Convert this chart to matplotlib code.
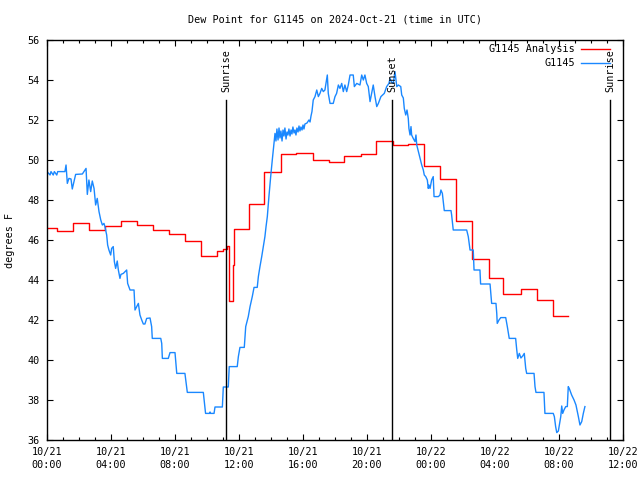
import matplotlib
matplotlib.use("Agg")
import matplotlib.pyplot as plt
from matplotlib.lines import Line2D
import numpy as np

# ---- data (x in hours since 2024-10-21 00:00 UTC, values in degrees F) ----
analysis_t = [0.0, 0.64, 1.64, 2.64, 3.64, 4.64, 5.64, 6.64, 7.64, 8.64, 9.64,
              10.64, 11.0, 11.25, 11.4, 11.6, 11.7, 12.6, 13.56, 14.6, 15.55,
              16.6, 17.6, 18.56, 19.6, 20.55, 21.6, 22.55, 23.58, 24.56, 25.56,
              26.56, 27.6, 28.5, 29.6, 30.6, 31.6, 32.54]
analysis_v = [46.58, 46.43, 46.83, 46.48, 46.68, 46.93, 46.73, 46.48, 46.28, 45.93, 45.18,
              45.43, 45.57, 45.68, 42.93, 44.75, 46.53, 47.8, 49.38, 50.3, 50.33,
              50.0, 49.88, 50.18, 50.28, 50.95, 50.73, 50.8, 49.7, 49.05, 46.93,
              45.03, 44.08, 43.28, 43.53, 43.0, 42.18, 42.18]

obs_t = [0.0, 0.19, 0.25, 0.39, 0.46, 0.61, 0.67, 1.12, 1.19, 1.27, 1.37, 1.5, 1.58, 1.69,
         1.79, 2.21, 2.33, 2.44, 2.52, 2.62, 2.73, 2.83, 2.94, 3.04, 3.14, 3.25, 3.36,
         3.46, 3.56, 3.62, 3.73, 3.79, 3.87, 3.98, 4.04, 4.14, 4.21, 4.29, 4.39, 4.46,
         4.56, 4.62, 4.77, 4.98, 5.04, 5.19, 5.44, 5.5, 5.61, 5.71, 5.81, 5.92, 6.02,
         6.12, 6.23, 6.44, 6.54, 6.58, 7.11, 7.17, 7.21, 7.58, 7.69, 8.0, 8.06, 8.11,
         8.62, 8.77, 9.77, 9.81, 9.91, 10.16, 10.19, 10.22, 10.44, 10.5, 10.96, 11.02,
         11.33, 11.39, 11.89, 11.96, 12.06, 12.33, 12.42, 12.58, 12.69, 12.83, 12.94,
         13.14, 13.21, 13.31, 13.42, 13.52, 13.62, 13.69, 13.77, 13.87, 13.98, 14.08,
         14.19, 14.25, 14.31, 14.37, 14.44, 14.5, 14.56, 14.62, 14.69, 14.75, 14.81,
         14.87, 14.94, 15.0, 15.06, 15.12, 15.19, 15.25, 15.31, 15.37, 15.44, 15.5,
         15.56, 15.62, 15.69, 15.75, 15.81, 15.87, 15.94, 16.0, 16.06, 16.12, 16.25,
         16.37, 16.44, 16.5, 16.56, 16.64, 16.75, 16.86, 16.96, 17.06, 17.17, 17.27,
         17.37, 17.52, 17.58, 17.69, 17.89, 18.0, 18.1, 18.21, 18.31, 18.42, 18.52,
         18.62, 18.73, 18.83, 18.94, 19.14, 19.21, 19.36, 19.56, 19.67, 19.77, 19.87,
         19.98, 20.08, 20.19, 20.29, 20.39, 20.5, 20.61, 20.71, 20.87, 21.08, 21.23,
         21.37, 21.44, 21.53, 21.64, 21.75, 21.86, 21.96, 22.11, 22.17, 22.27, 22.33,
         22.42, 22.5, 22.58, 22.62, 22.69, 22.75, 22.79, 22.89, 23.0, 23.06, 23.11,
         23.21, 23.31, 23.42, 23.52, 23.58, 23.67, 23.77, 23.83, 23.87, 23.94, 24.04,
         24.14, 24.19, 24.46, 24.56, 24.62, 24.71, 24.77, 24.83, 25.25, 25.29, 25.39,
         26.23, 26.33, 26.44, 26.64, 26.69, 27.06, 27.1, 27.69, 27.79, 28.06, 28.11,
         28.14, 28.25, 28.36, 28.67, 28.77, 28.89, 29.29, 29.36, 29.42, 29.52, 29.62,
         29.73, 29.83, 29.92, 29.98, 30.44, 30.5, 30.56, 31.06, 31.12, 31.64, 31.71,
         31.79, 31.86, 31.96, 32.02, 32.11, 32.17, 32.23, 32.31, 32.42, 32.52, 32.58,
         32.64, 32.79, 32.94, 33.06, 33.21, 33.31, 33.42, 33.52, 33.62]
obs_v = [49.42, 49.25, 49.42, 49.25, 49.42, 49.25, 49.42, 49.42, 49.75, 48.83, 49.08, 49.05,
         48.55, 48.92, 49.28, 49.3, 49.45, 49.58, 48.28, 49.0, 48.42, 48.95, 48.58, 47.75,
         48.08, 47.42, 47.0, 46.75, 46.83, 46.67, 46.25, 45.75, 45.5, 45.25, 45.58, 45.67,
         44.92, 44.58, 44.95, 44.5, 44.08, 44.28, 44.33, 44.5, 43.83, 43.5, 43.5, 42.5,
         42.67, 42.83, 42.25, 42.0, 41.8, 41.8, 42.08, 42.1, 41.67, 41.08, 41.08, 40.83,
         40.08, 40.08, 40.37, 40.37, 39.83, 39.33, 39.33, 38.38, 38.38, 38.08, 37.33,
         37.33, 37.4, 37.33, 37.33, 37.65, 37.65, 38.65, 38.65, 39.67, 39.67, 40.17, 40.63,
         40.63, 41.67, 42.17, 42.67, 43.17, 43.63, 43.63, 44.17, 44.67, 45.17, 45.67,
         46.17, 46.67, 47.17, 48.17, 49.17, 50.0, 50.83, 51.33, 50.95, 51.55, 51.0, 51.6,
         51.1, 51.45, 50.95, 51.5, 51.2, 51.6, 51.05, 51.4, 51.25, 51.55, 51.2, 51.5, 51.3,
         51.65, 51.35, 51.5, 51.25, 51.6, 51.4, 51.7, 51.45, 51.65, 51.5, 51.75, 51.55,
         51.8, 51.85, 52.0, 51.9, 52.2, 52.42, 53.0, 53.17, 53.5, 53.17, 53.33, 53.58,
         53.42, 53.5, 54.25, 53.33, 52.83, 52.83, 53.17, 53.33, 53.75, 53.58, 53.83, 53.42,
         53.75, 53.42, 53.75, 54.25, 54.25, 53.67, 53.83, 53.75, 54.25, 54.0, 54.25, 53.83,
         53.67, 52.92, 53.33, 53.75, 53.17, 52.67, 52.83, 53.17, 53.33, 53.67, 53.83, 54.08,
         53.9, 53.83, 54.42, 53.67, 53.75, 53.67, 53.25, 53.1, 52.58, 52.25, 52.5, 52.08,
         51.58, 51.25, 51.67, 51.25, 51.08, 50.92, 51.25, 50.75, 50.42, 50.08, 49.75, 49.5,
         49.25, 49.17, 49.0, 48.58, 48.75, 48.58, 49.0, 49.17, 48.17, 48.17, 48.25, 48.5,
         48.33, 47.92, 47.47, 47.47, 47.25, 46.5, 46.5, 46.17, 45.5, 45.5, 44.5, 44.5,
         43.8, 43.8, 42.83, 42.83, 42.33, 41.83, 42.0, 42.12, 42.12, 41.67, 41.08, 41.08,
         40.5, 40.08, 40.33, 40.1, 40.2, 40.33, 39.58, 39.33, 39.33, 38.67, 38.38, 38.38,
         37.33, 37.33, 37.17, 36.67, 36.37, 36.45, 36.75, 37.17, 37.7, 37.33, 37.5, 37.67,
         37.67, 38.67, 38.58, 38.25, 38.0, 37.75, 37.17, 36.75, 36.92, 37.33, 37.67]

sun_events = ["Sunrise", "Sunset", "Sunrise"]
sun_times = [11.19, 21.56, 35.19]

xtick_hours = [0, 4, 8, 12, 16, 20, 24, 28, 32, 36]
xtick_labels = ["10/21\n00:00", "10/21\n04:00", "10/21\n08:00", "10/21\n12:00",
                "10/21\n16:00", "10/21\n20:00", "10/22\n00:00", "10/22\n04:00",
                "10/22\n08:00", "10/22\n12:00"]
ytick_vals = [36, 38, 40, 42, 44, 46, 48, 50, 52, 54, 56]

series_names = ["G1145 Analysis", "G1145"]
RED = "#ff0000"
BLUE = "#1a88ff"

plt.rcParams['font.family'] = ['DejaVu Sans Mono']
FS = 7.3

fig = plt.figure(figsize=(6.4, 4.8), dpi=100)
ax = fig.add_axes([47/640, 40/480, 576/640, 400/480])

ax.plot(analysis_t, analysis_v, color=RED, lw=1.0, drawstyle='steps-post')
ax.plot(obs_t, obs_v, color=BLUE, lw=1.0)

for name, t in zip(sun_events, sun_times):
    ax.plot([t, t], [36, 53.02], color='black', lw=1.0)
    ax.text(t, 53.38, name, rotation=90, ha='center', va='bottom', fontsize=FS)

ax.set_xlim(0, 36)
ax.set_ylim(36, 56)
ax.set_xticks(xtick_hours)
ax.set_xticklabels(xtick_labels, fontsize=FS, linespacing=1.4)
ax.set_xticks(np.arange(0, 37, 1), minor=True)
ax.set_yticks(ytick_vals)
ax.set_yticklabels([str(v) for v in ytick_vals], fontsize=FS)
ax.tick_params(axis='both', which='major', direction='in', length=4.3, width=0.8,
               top=True, right=True, pad=5)
ax.tick_params(axis='x', which='minor', direction='in', length=2.2, width=0.8,
               top=True, bottom=True)
ax.tick_params(axis='y', which='minor', left=False, right=False)
for s in ax.spines.values():
    s.set_linewidth(1.0)

ax.set_ylabel("degrees F", fontsize=FS, labelpad=9)
fig.text(335/640, 1 - 20/480, "Dew Point for G1145 on 2024-Oct-21 (time in UTC)",
         ha='center', va='center', fontsize=FS)

# legend (gnuplot style, top right)
leg_y = [0.9767, 0.9433]
for name, col, yy in zip(series_names, [RED, BLUE], leg_y):
    ax.text(0.9167, yy, name, transform=ax.transAxes, ha='right', va='center', fontsize=FS)
    ax.add_line(Line2D([0.927, 0.977], [yy, yy], transform=ax.transAxes, color=col, lw=1.0))

fig.savefig("out.png", dpi=100)
